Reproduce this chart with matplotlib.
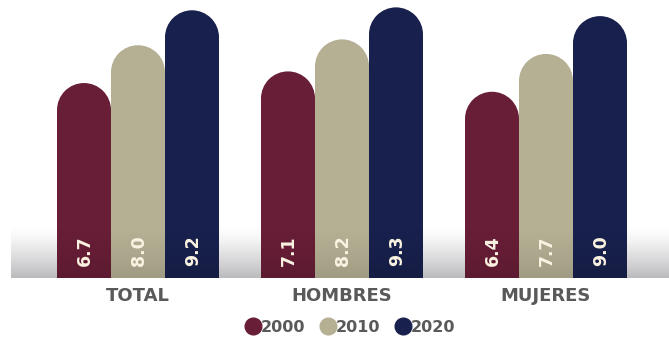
import matplotlib
matplotlib.use("Agg")
import matplotlib.pyplot as plt
import numpy as np
from matplotlib.patches import Ellipse, Rectangle
from matplotlib.lines import Line2D

categories = ["TOTAL", "HOMBRES", "MUJERES"]
years = ["2000", "2010", "2020"]
values_2000 = [6.7, 7.1, 6.4]
values_2010 = [8.0, 8.2, 7.7]
values_2020 = [9.2, 9.3, 9.0]
series = [values_2000, values_2010, values_2020]
colors = ["#681E37", "#B5B094", "#18214D"]
label_colors = ["#FBF3E2", "#FBF3E2", "#FBF3E2"]

W, H = 669, 338
fig = plt.figure(figsize=(W / 100, H / 100), dpi=100)
ax = fig.add_axes([0, 0, 1, 1])

px_x = 204.0   # px per x unit
px_y = 29.1    # px per y unit
x0_px = 138.0
base_px = 60.0
ax.set_xlim(-x0_px / px_x, (W - x0_px) / px_x)
ax.set_ylim(-base_px / px_y, (H - base_px) / px_y)
ax.axis("off")

bw = 54.0 / px_x
ry = (27.0) / px_y

x = np.arange(len(categories))
for i, (vals, c) in enumerate(zip(series, colors)):
    for j, v in enumerate(vals):
        xc = x[j] + (i - 1) * bw
        ax.add_patch(Rectangle((xc - bw / 2, 0), bw, v - ry, facecolor=c,
                               edgecolor="none", zorder=2))
        ax.add_patch(Ellipse((xc, v - ry), bw, 2 * ry, facecolor=c,
                             edgecolor="none", zorder=2))
        ax.text(xc + 0.005, 0.42, f"{v:.1f}", rotation=90, ha="center", va="bottom",
                color=label_colors[i], fontsize=12.5, fontweight="heavy",
                family="DejaVu Sans", zorder=4)

# bottom shadow gradient (behind bars)
n = 100
t = np.linspace(0.0, 1.0, n)  # row 0 = top
band_top = (278 - 225) / px_y
ext = [(11 - x0_px) / px_x, (W - x0_px) / px_x, 0, band_top]
grad = np.zeros((n, 2, 4))
grad[:, :, 0] = 0.45
grad[:, :, 1] = 0.45
grad[:, :, 2] = 0.5
grad[:, :, 3] = (t ** 1.4 * 0.30)[:, None]
ax.imshow(grad, extent=ext, aspect="auto", zorder=1, interpolation="bilinear")
# subtle darkening over the bars
grad2 = np.zeros((n, 2, 4))
grad2[:, :, 3] = (t ** 1.4 * 0.12)[:, None]
ax.imshow(grad2, extent=ext, aspect="auto", zorder=3, interpolation="bilinear")

for j, cat in enumerate(categories):
    ax.text(x[j], (42 - base_px) / px_y, cat, ha="center", va="center",
            fontsize=13, fontweight="heavy", color="#595959")

handles = [Line2D([], [], marker="o", linestyle="none", markersize=12,
                  markerfacecolor=c, markeredgecolor=c) for c in colors]
fig.legend(handles, years, loc="center", bbox_to_anchor=(350 / W, 11 / H),
           ncol=3, frameon=False, handletextpad=0.0, columnspacing=0.9,
           handlelength=1.0, prop={"weight": "heavy", "size": 11.5},
           labelcolor="#595959")

fig.savefig("out.png", dpi=100)
